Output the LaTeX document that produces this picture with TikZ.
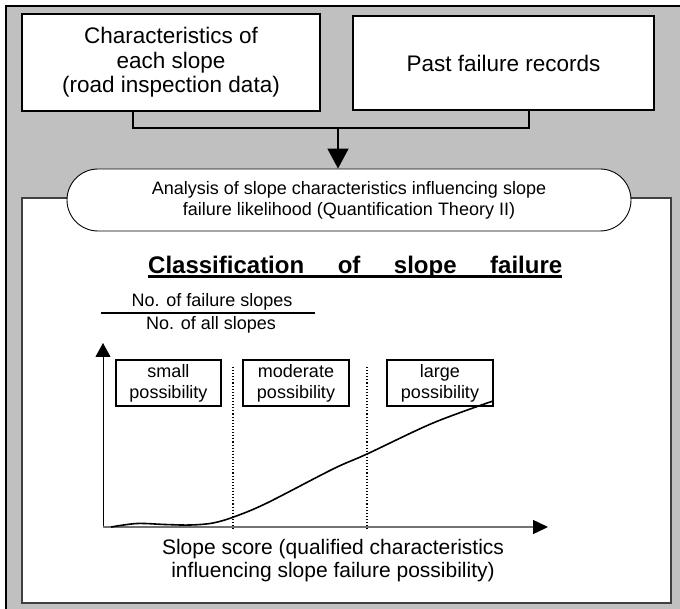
\documentclass[tikz,border=0pt]{standalone}
\usepackage{fontspec}
\setmainfont{Liberation Sans}
\usetikzlibrary{arrows.meta,calc}
\definecolor{bggray}{HTML}{C0C0C0}
\tikzset{
  bigbox/.style={draw, line width=1.6pt, fill=white, inner sep=0pt, align=center,
    font=\fontsize{22.5}{24.5}\selectfont},
  possbox/.style={draw, line width=1.4pt, fill=white, inner sep=0pt, align=center,
    minimum height=46pt, font=\fontsize{18}{21}\selectfont},
  panelbox/.style={draw=black!75, line width=1.2pt, fill=white, inner sep=0pt},
  anabox/.style={draw, line width=0.9pt, fill=white, rounded corners=31pt, inner sep=0pt,
    align=center, minimum width=564pt, minimum height=62pt,
    font=\fontsize{18}{21}\selectfont},
  plaintext/.style={inner sep=0pt, align=center},
  conn/.style={line width=1.6pt},
  divline/.style={line width=1.1pt, dotted},
}
\begin{document}
\begin{tikzpicture}[x=1pt,y=-1pt]
\useasboundingbox (0,0) rectangle (680,609);
\clip (0,0) rectangle (680,609);
% outer gray frame
\fill[bggray] (6,6) rectangle (690,620);
\draw[line width=2.2pt] (690,6) -- (6,6) -- (6,620);

% input boxes
\node[bigbox, minimum width=298pt, minimum height=97pt] (box1) at (171,62.5)
  {Characteristics of\\each slope\\(road inspection data)};
\node[bigbox, minimum width=301pt, minimum height=94pt] (box2) at (503.5,63)
  {Past failure records};

% connector
\coordinate (j1) at (133,128);
\coordinate (j2) at (529,128);
\coordinate (jm) at (338,128);
\draw[conn] (box1.south -| j1) -- (j1) -- (j2) -- (box2.south -| j2);

% white panel
\node[panelbox, minimum width=649pt, minimum height=405pt] (panel) at (346.5,400.5) {};

% analysis box
\node[anabox] (ana) at (349,200)
  {Analysis of slope characteristics influencing slope\\failure likelihood (Quantification Theory II)};
\draw[conn, -{Triangle[length=20pt,width=21pt]}] (jm) -- (jm |- ana.north);

% title
\node[plaintext, anchor=base west, font=\fontsize{24}{28}\selectfont\bfseries] (cls) at (148,274)
  {\hbox to 414pt{Classification\hfil of\hfil slope\hfil failure}};
\draw[line width=3pt] ([yshift=-3pt]cls.base west) -- ([yshift=-3pt]cls.base east);

% fraction
\node[plaintext, font=\fontsize{18}{21}\selectfont] (num) at (212,302) {No. of failure slopes};
\coordinate (fl) at (101,313);
\coordinate (fr) at (315,313);
\draw[line width=1.5pt] (fl) -- (fr);
\node[plaintext, font=\fontsize{18}{21}\selectfont] (den) at (211,324.5) {No. of all slopes};

% axes
\coordinate (O) at (103,527);
\coordinate (ytip) at (103,343);
\coordinate (xtip) at (548,527);
\draw[line width=0.9pt, -{Triangle[length=14pt,width=15pt]}] (O) -- (ytip);
\draw[line width=1.5pt, black!55, -{Triangle[length=15pt,width=14pt,fill=black,color=black]}] (O) -- (xtip);

% dotted dividers
\coordinate (d1t) at (233,367);
\coordinate (d1b) at (233,529);
\coordinate (d2t) at (367,367);
\coordinate (d2b) at (367,529);
\draw[divline] (d1t) -- (d1b);
\draw[divline] (d2t) -- (d2b);

% possibility boxes
\node[possbox, minimum width=105pt] (small) at (168.5,383) {small\\possibility};
\node[possbox, minimum width=106pt] (moderate) at (296,383) {moderate\\possibility};
\node[possbox, minimum width=106pt] (large) at (440,383) {large\\possibility};

% curve
\draw[line width=1.6pt] plot[smooth, tension=0.55] coordinates
  {(111,527) (137,523.5) (165,524.5) (190,525) (213,523) (235,516.5) (267,503)
   (333,469) (367,454) (433,423) (493,401)};

% x-axis label
\node[plaintext, font=\fontsize{21}{23.5}\selectfont] (xlab) at (333,560.5)
  {Slope score (qualified characteristics\\influencing slope failure possibility)};
\end{tikzpicture}
\end{document}
